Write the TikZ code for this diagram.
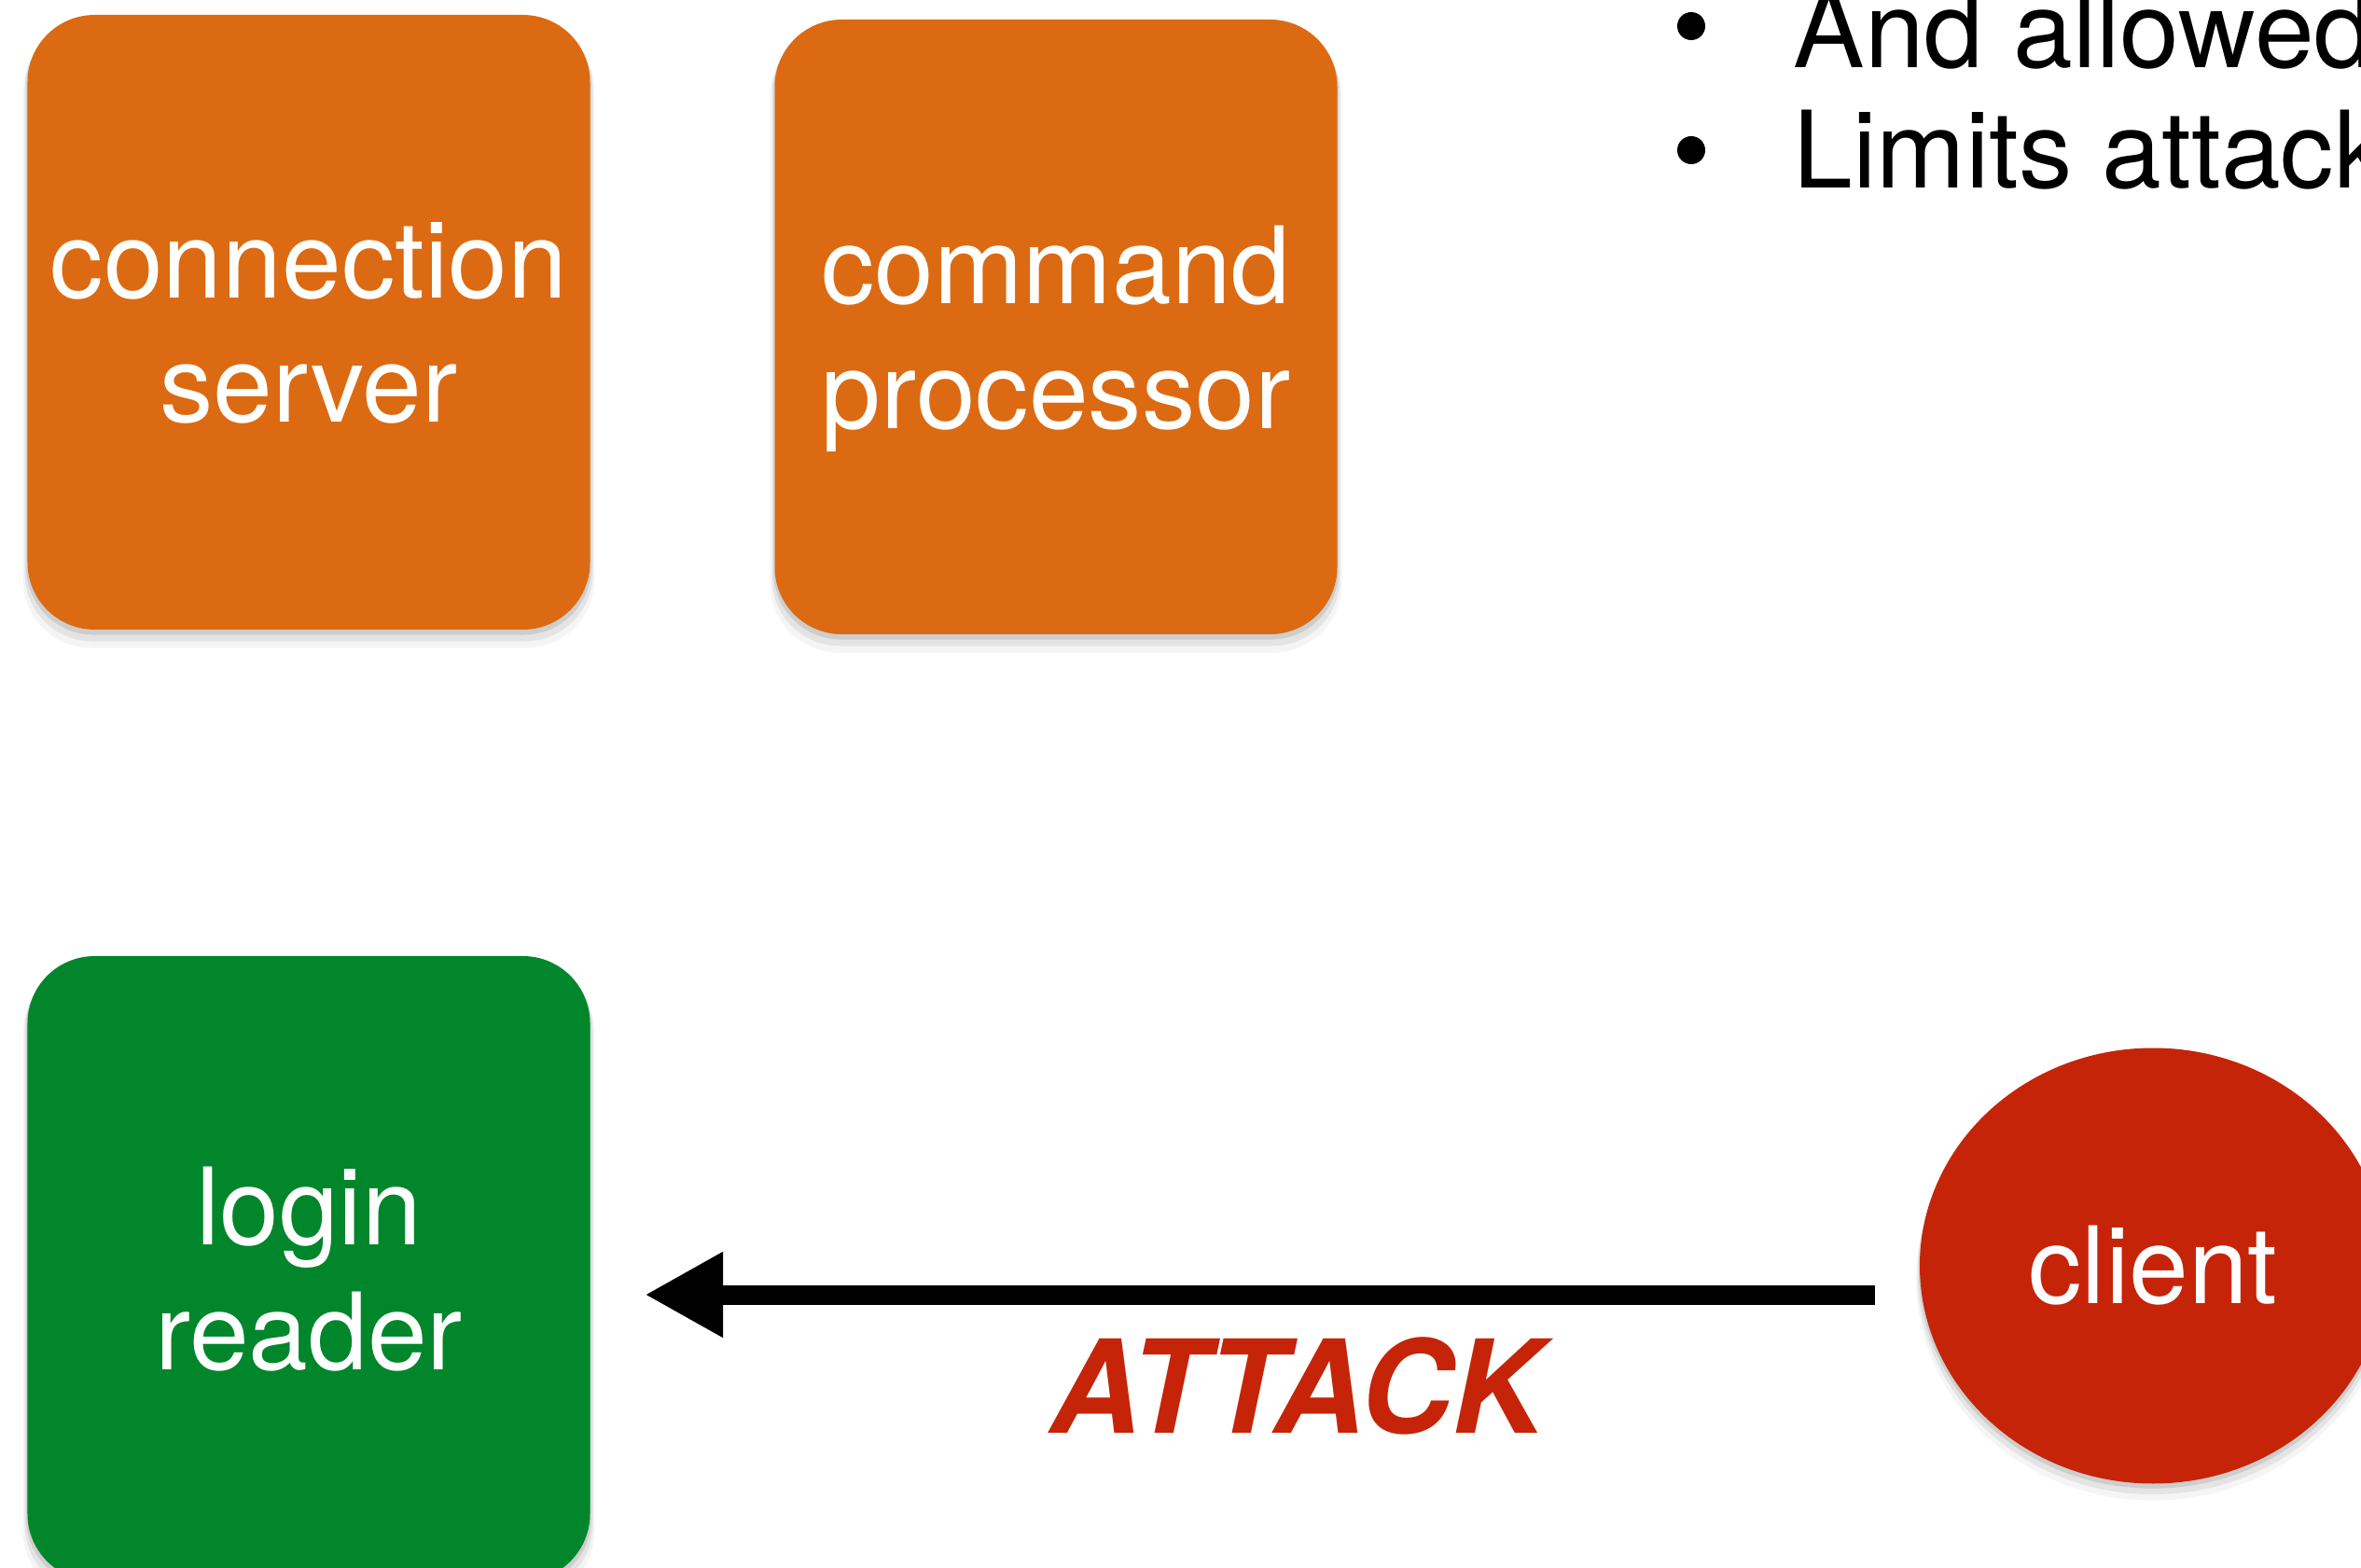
\documentclass[tikz,border=0pt]{standalone}
\usepackage{fontspec}
\setmainfont{TeX Gyre Heros}
\usetikzlibrary{arrows.meta,shadows,shapes.geometric}

\definecolor{cardorange}{RGB}{220,106,18}
\definecolor{cardgreen}{RGB}{2,134,43}
\definecolor{alertred}{RGB}{197,36,9}

\begin{document}
\begin{tikzpicture}[x=1cm,y=1cm,
  bigtext/.style={font=\fontsize{32.6pt}{38.1pt}\selectfont},
  % a soft shadow built from a few faint, slightly growing layers
  softshadow/.style={
    drop shadow={shadow xshift=0pt, shadow yshift=-1.2pt, shadow scale=1.004, fill=black, opacity=0.10},
    drop shadow={shadow xshift=0pt, shadow yshift=-2.6pt, shadow scale=1.010, fill=black, opacity=0.07},
    drop shadow={shadow xshift=0pt, shadow yshift=-4.0pt, shadow scale=1.016, fill=black, opacity=0.04}},
  card/.style={rectangle, rounded corners=0.72cm, minimum width=6.03cm,
    minimum height=6.59cm, inner sep=0pt, text=white, align=center,
    text depth=0pt, bigtext, softshadow},
  actor/.style={ellipse, minimum width=5.0cm, minimum height=4.67cm,
    inner sep=0pt, fill=alertred, text=white, bigtext, softshadow},
  bulletdot/.style={circle, fill=black, minimum size=0.30cm, inner sep=0pt},
  bullettext/.style={anchor=base west, inner sep=0pt, bigtext},
  flow/.style={line width=0.21cm, -{Triangle[length=0.84cm, width=0.86cm]}},
]
\useasboundingbox (0,0) rectangle (25.31,-16.81);
\clip (0,0) rectangle (25.31,-16.81);

% process cards
\node[card, fill=cardorange] (conn) at (3.31,-3.455) {connection\\server};
\node[card, fill=cardorange] (cmd) at (11.32,-3.505) {command\\processor};
\node[card, fill=cardgreen, minimum height=6.70cm] (login) at (3.31,-13.60) {login\\reader};

% the remote client
\node[actor] (client) at (23.08,-13.57) {client};

% attack arrow from the client into the login reader
\coordinate (lane) at (0,-13.88);
\draw[flow, shorten <=0.47cm, shorten >=0.58cm]
  (client.west |- lane) -- (login.east |- lane);
\node[anchor=base west, inner sep=0pt, text=alertred, xscale=0.98,
  font=\fontsize{39.5pt}{45pt}\selectfont\bfseries\itshape] (attack) at (11.25,-15.36) {ATTACK};

% bullet list in the top right corner
\node[bulletdot] (b1) at (18.13,-0.28) {};
\node[bulletdot] (b2) at (18.13,-1.61) {};
\node[bullettext] (t1) at (19.22,-0.73) {And allowed};
\node[bullettext] (t2) at (19.22,-2.02) {Limits attack};
\end{tikzpicture}
\end{document}
